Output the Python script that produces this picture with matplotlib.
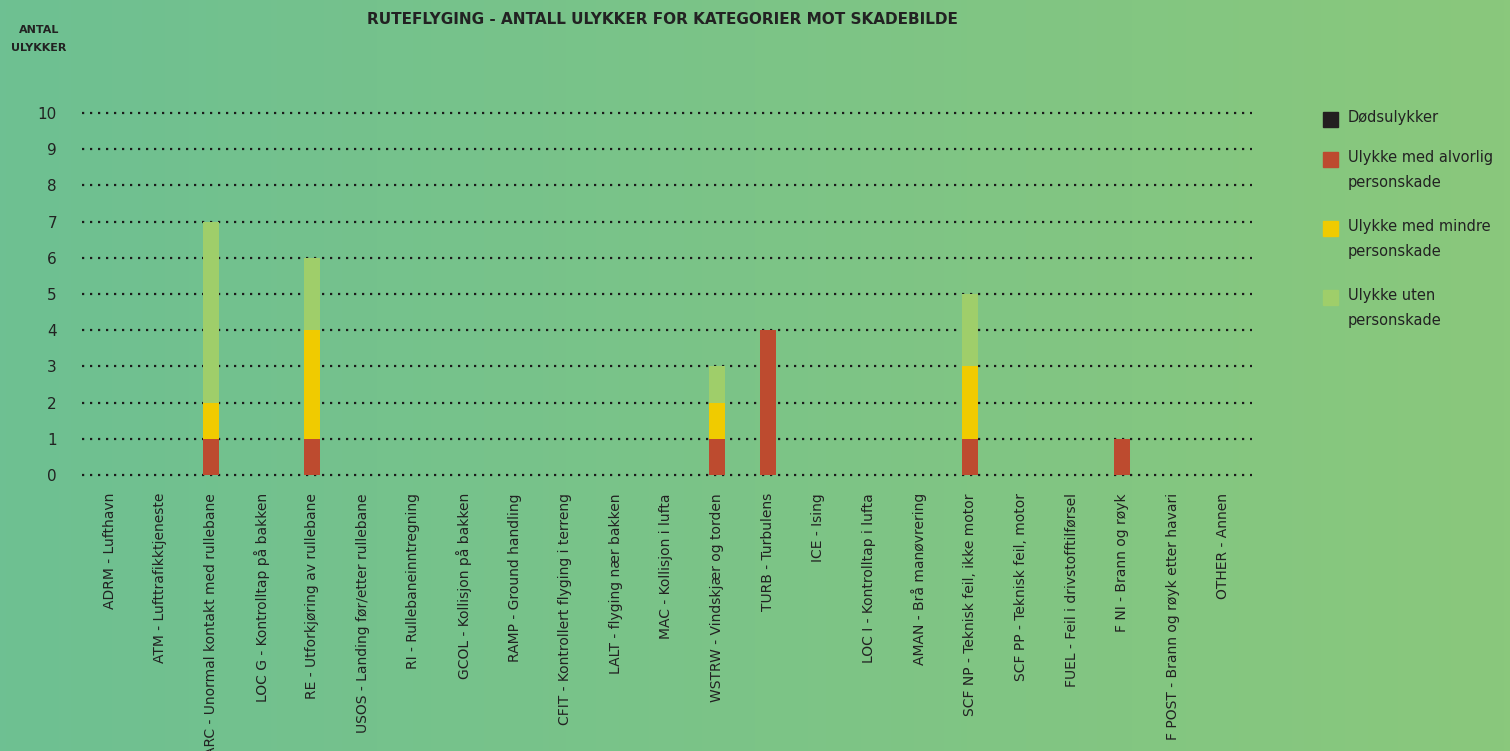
import numpy as np
import matplotlib.pyplot as plt
from matplotlib.patches import Rectangle

# --- Data ---
categories = [
    "ADRM - Lufthavn",
    "ATM - Lufttrafikktjeneste",
    "ARC - Unormal kontakt med rullebane",
    "LOC G - Kontrolltap på bakken",
    "RE - Utforkjøring av rullebane",
    "USOS - Landing før/etter rullebane",
    "RI - Rullebaneinntregning",
    "GCOL - Kollisjon på bakken",
    "RAMP - Ground handling",
    "CFIT - Kontrollert flyging i terreng",
    "LALT - flyging nær bakken",
    "MAC - Kollisjon i lufta",
    "WSTRW - Vindskjær og torden",
    "TURB - Turbulens",
    "ICE - Ising",
    "LOC I - Kontrolltap i lufta",
    "AMAN - Brå manøvrering",
    "SCF NP - Teknisk feil, ikke motor",
    "SCF PP - Teknisk feil, motor",
    "FUEL - Feil i drivstofftilførsel",
    "F NI - Brann og røyk",
    "F POST - Brann og røyk etter havari",
    "OTHER - Annen",
]
fatal   = [0, 0, 0, 0, 0, 0, 0, 0, 0, 0, 0, 0, 0, 0, 0, 0, 0, 0, 0, 0, 0, 0, 0]
serious = [0, 0, 1, 0, 1, 0, 0, 0, 0, 0, 0, 0, 1, 4, 0, 0, 0, 1, 0, 0, 1, 0, 0]
minor   = [0, 0, 1, 0, 3, 0, 0, 0, 0, 0, 0, 0, 1, 0, 0, 0, 0, 2, 0, 0, 0, 0, 0]
none_   = [0, 0, 5, 0, 2, 0, 0, 0, 0, 0, 0, 0, 1, 0, 0, 0, 0, 2, 0, 0, 0, 0, 0]

series_labels = ["Dødsulykker", "Ulykke med alvorlig\npersonskade",
                 "Ulykke med mindre\npersonskade", "Ulykke uten\npersonskade"]
colors = ["#231f20", "#bd4b2f", "#f0cb00", "#9fce6a"]
text_col = "#222222"

plt.rcParams['font.family'] = ['DejaVu Sans']

fig = plt.figure(figsize=(15.1, 7.51), dpi=100)

# --- gradient background ---
bg = fig.add_axes([0, 0, 1, 1], zorder=-10)
left = np.array([110, 192, 146]) / 255
right = np.array([138, 200, 124]) / 255
t = np.linspace(0, 1, 256)
grad = (left[None, :] * (1 - t[:, None]) + right[None, :] * t[:, None])[None, :, :]
bg.imshow(grad, aspect='auto', extent=[0, 1, 0, 1])
bg.axis('off')

# --- main chart ---
ax = fig.add_axes([82 / 1510, 1 - 475 / 751, (1252 - 82) / 1510, (475 - 113) / 751])
ax.patch.set_alpha(0)
x = np.arange(len(categories))
bottom = np.zeros(len(categories))
for vals, col in zip([fatal, serious, minor, none_], colors):
    ax.bar(x, vals, bottom=bottom, width=0.32, color=col, zorder=3)
    bottom += np.array(vals)

ax.set_xlim(-0.55, len(categories) - 0.43)
ax.set_ylim(0, 10)
ax.set_yticks(range(0, 11))
for yv in range(0, 11):
    ax.axhline(yv, color="#1a1a1a", linestyle=(0, (1, 2.6)), linewidth=1.6, zorder=2, clip_on=False)
for s in ax.spines.values():
    s.set_visible(False)
ax.tick_params(axis='both', length=0, colors=text_col)
ax.tick_params(axis='y', labelsize=11, pad=18)
ax.set_xticks(x)
ax.set_xticklabels(categories, rotation=90, fontsize=10, va='top', ha='center')
ax.tick_params(axis='x', pad=13)

# --- titles ---
fig.text(367 / 1510, 1 - 19 / 751, "RUTEFLYGING - ANTALL ULYKKER FOR KATEGORIER MOT SKADEBILDE",
         fontsize=11, fontweight='bold', color=text_col, ha='left', va='center')
fig.text(39 / 1510, 1 - 39 / 751, "ANTAL\nULYKKER", fontsize=8, fontweight='bold',
         color=text_col, ha='center', va='center', linespacing=1.9)

# --- legend ---
leg_y = [119, 159, 228, 297]
for lab, col, yy in zip(series_labels, colors, leg_y):
    fig.patches.append(Rectangle((1323 / 1510, 1 - (yy + 8) / 751), 15 / 1510, 15 / 751,
                                 transform=fig.transFigure, color=col))
    fig.text(1348 / 1510, 1 - (yy - 9) / 751, lab, fontsize=10.5, color=text_col,
             ha='left', va='top', linespacing=1.85)

fig.savefig("out.png", dpi=100)
